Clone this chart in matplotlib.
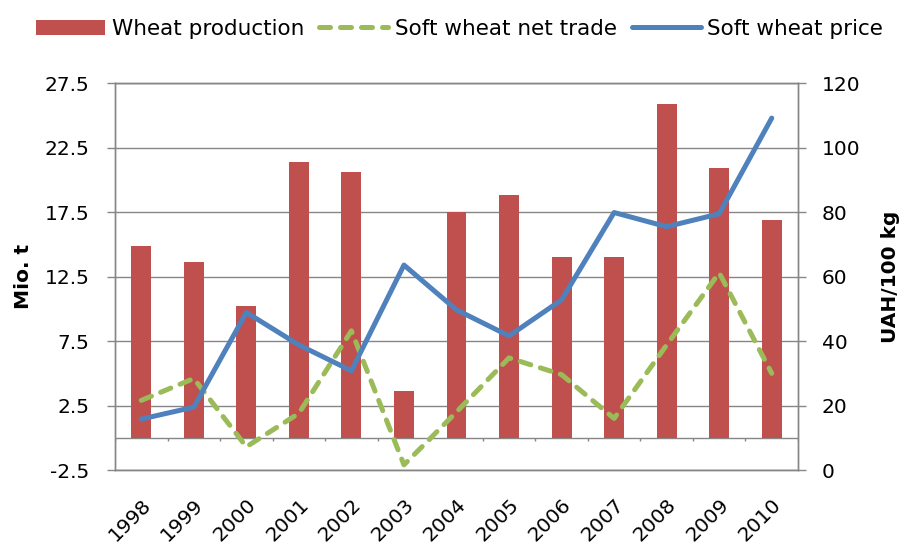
import numpy as np
import matplotlib
matplotlib.use('Agg')
import matplotlib.pyplot as plt

# values
years = ['1998', '1999', '2000', '2001', '2002', '2003', '2004',
         '2005', '2006', '2007', '2008', '2009', '2010']
production = [14.9, 13.6, 10.2, 21.4, 20.6, 3.6, 17.5,
              18.8, 14.0, 14.0, 25.9, 20.9, 16.9]          # Mio. t
net_trade = [2.9, 4.6, -0.7, 1.9, 8.3, -2.1, 2.0,
             6.2, 4.9, 1.5, 7.2, 12.8, 5.0]                 # Mio. t
price = [15.8, 19.5, 48.9, 38.8, 30.8, 63.6, 49.7,
         41.6, 52.8, 79.9, 75.5, 79.5, 109.2]               # UAH/100 kg

left_ticks = [-2.5, 2.5, 7.5, 12.5, 17.5, 22.5, 27.5]
right_ticks = [0, 20, 40, 60, 80, 100, 120]

red = '#C0504D'
green = '#9BBB59'
blue = '#4F81BD'
grey = '#868686'

plt.rcParams['axes.unicode_minus'] = False
plt.rcParams['font.family'] = ['DejaVu Sans']

fig = plt.figure(figsize=(9.03, 5.43), dpi=100)
ax = fig.add_axes([115/903, 1-470/543, 683/903, 386.7/543])
ax2 = ax.twinx()

x = np.arange(len(years))

bars = ax.bar(x, production, width=0.38, color=red, zorder=2,
              label='Wheat production')
ln_trade, = ax.plot(x, net_trade, color=green, lw=3.6, ls=(0, (2.2, 2.0)),
                    dash_capstyle='round', zorder=3,
                    label='Soft wheat net trade')
ln_price, = ax2.plot(x, price, color=blue, lw=3.6, solid_capstyle='round',
                     solid_joinstyle='round', label='Soft wheat price')

ax.set_xlim(-0.5, len(years) - 0.5)
ax.set_ylim(-2.5, 27.5)
ax.set_yticks(left_ticks)
ax.set_yticklabels([f'{v:.1f}' for v in left_ticks])
ax2.set_ylim(0, 120)
ax2.set_yticks(right_ticks)

ax.yaxis.grid(True, color=grey, lw=1)
ax.set_axisbelow(True)

# category axis sits at zero
ax.axhline(0, color=grey, lw=1, zorder=1.5)
ax.vlines(np.arange(-0.5, len(years)), -0.25, 0, color=grey, lw=1)

ax.set_xticks(x)
ax.set_xticklabels(years)
ax.tick_params(axis='x', length=0, pad=18, labelsize=14.5)
plt.setp(ax.get_xticklabels(), rotation=45, ha='right', va='top',
         rotation_mode='anchor')
ax.tick_params(axis='y', color=grey, length=5.5, width=1, pad=13,
               labelsize=14.5)
ax2.tick_params(axis='y', color=grey, length=5.5, width=1, pad=11.5,
                labelsize=14.5)

for a in (ax, ax2):
    for s in a.spines.values():
        s.set_color(grey)
        s.set_linewidth(1)

ax.set_ylabel('Mio. t', fontsize=14.5, fontweight='bold', labelpad=8)
ax2.set_ylabel('UAH/100 kg', fontsize=14.5, fontweight='bold', labelpad=15)

fig.legend([bars, ln_trade, ln_price],
           ['Wheat production', 'Soft wheat net trade', 'Soft wheat price'],
           loc='center', bbox_to_anchor=(0.509, 1-29/543), ncol=3,
           frameon=False, fontsize=15.5, handlelength=3.2, handleheight=0.75,
           handletextpad=0.3, columnspacing=0.7, borderpad=0, borderaxespad=0)

fig.savefig('out.png', dpi=100)
